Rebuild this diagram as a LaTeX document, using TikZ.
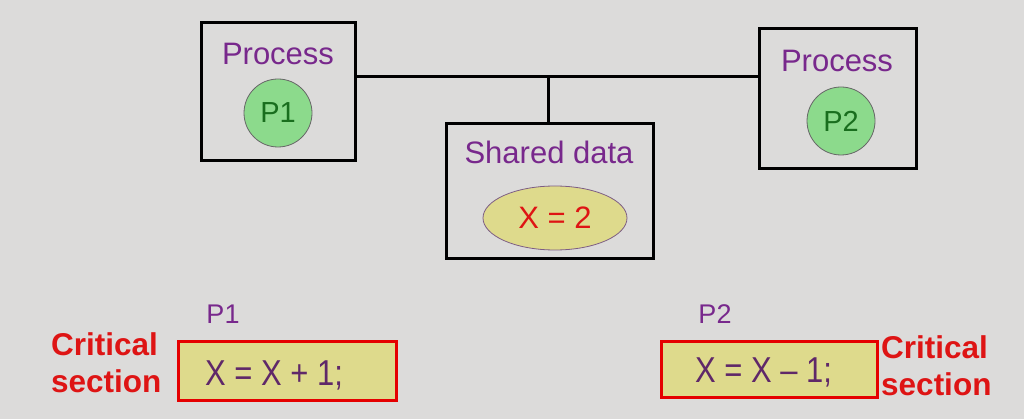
\documentclass[tikz,border=0pt]{standalone}
\usepackage{fontspec}
\setmainfont{Liberation Sans}
\newfontfamily\narrowfont[FakeStretch=0.86]{Liberation Sans}
\usetikzlibrary{shapes.geometric}
\definecolor{bg}{RGB}{220,219,218}
\definecolor{procpurple}{RGB}{120,40,140}
\definecolor{greenfill}{RGB}{140,218,140}
\definecolor{greentext}{RGB}{25,110,30}
\definecolor{yellowfill}{RGB}{222,218,140}
\definecolor{redtext}{RGB}{222,20,20}
\definecolor{codepurple}{RGB}{95,40,105}
\tikzset{
  box/.style={draw=black, line width=3pt, inner sep=0pt},
  wire/.style={draw=black, line width=3pt},
  lbl/.style={text=procpurple, inner sep=0pt, anchor=base, font=\fontsize{31}{36}\selectfont},
  proc/.style={circle, draw=gray!80!black, line width=0.8pt, fill=greenfill, minimum size=68pt, inner sep=0pt, text=greentext, font=\fontsize{29}{34}\selectfont},
  val/.style={ellipse, draw=gray!60!procpurple, line width=0.8pt, fill=yellowfill, minimum width=144pt, minimum height=64pt, inner sep=0pt, text=redtext, font=\fontsize{31}{36}\selectfont},
  crit/.style={draw=red!90!black, line width=3pt, fill=yellowfill, inner sep=0pt},
  code/.style={text=codepurple, inner sep=0pt, anchor=base west, font=\narrowfont\fontsize{36}{40}\selectfont},
  plbl/.style={text=procpurple, inner sep=0pt, anchor=base, font=\fontsize{27}{30}\selectfont},
  cs/.style={text=redtext, inner sep=0pt, align=left, anchor=base west, font=\bfseries\fontsize{31.5}{37}\selectfont},
}
\begin{document}
\begin{tikzpicture}[x=1pt, y=-1pt]
\fill[bg] (0,0) rectangle (1024,419);
\useasboundingbox (0,0) rectangle (1024,419);

% process boxes
\node[box, minimum width=154pt, minimum height=138pt] (box1) at (278,92) {};
\node[box, minimum width=157pt, minimum height=140pt] (box2) at (837.5,99) {};
\node[box, minimum width=207pt, minimum height=135pt] (shared) at (550,191.5) {};

% connectors
\coordinate (jn) at (548,77);
\draw[wire] (box1.east |- jn) -- (box2.west |- jn);
\draw[wire] (jn) -- (jn |- shared.north);

% contents
\node[lbl] (proc1) at (278,65) {Process};
\node[proc] (p1) at (278,113) {P1};
\node[lbl] (proc2) at (837,72) {Process};
\node[proc] (p2) at (841,121) {P2};
\node[lbl] (sd) at (549,164) {Shared data};
\node[val] (x2) at (555,218) {X = 2};

% critical sections
\node[crit, minimum width=218pt, minimum height=59pt] (cs1) at (287,370.5) {};
\node[crit, minimum width=216pt, minimum height=56pt] (cs2) at (769,369) {};
\node[code] (c1) at (205,385) {X = X + 1;};
\node[code] (c2) at (695,382) {X = X – 1;};
\node[plbl] (l1) at (223,323) {P1};
\node[plbl] (l2) at (715,323) {P2};
\node[cs] (t1) at (51,392) {Critical\\section};
\node[cs] (t2) at (881,395) {Critical\\section};
\end{tikzpicture}
\end{document}
